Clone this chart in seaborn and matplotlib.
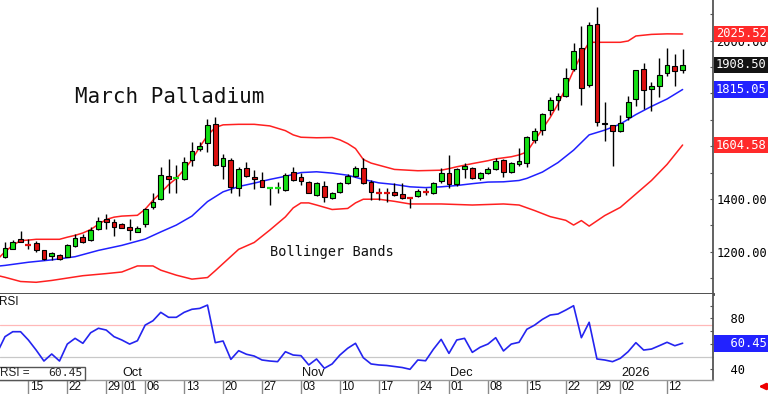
import numpy as np
import pandas as pd
import matplotlib
matplotlib.use("Agg")
import matplotlib.pyplot as plt
import matplotlib.transforms as mtransforms
from matplotlib.patches import Rectangle
from matplotlib.ticker import MultipleLocator
import seaborn as sns

# ---------------- data ----------------
first_day = "2025-09-10"
last_day = "2026-01-14"
market_holidays = ["2025-11-27", "2025-12-25", "2026-01-01"]

opens = [1181, 1210, 1247, 1226, 1234, 1205, 1184, 1187, 1181, 1222,
         1256, 1244, 1285, 1324, 1311, 1304, 1294, 1276, 1305, 1368,
         1399, 1488, 1477, 1475, 1548, 1588, 1611, 1683, 1525, 1548,
         1440, 1516, 1484, 1472, 1439, 1440, 1434, 1503, 1482, 1464,
         1415, 1449, 1402, 1428, 1459, 1487, 1519, 1465, 1426, 1426,
         1425, 1418, 1407, 1412, 1429, 1421, 1469, 1497, 1456, 1512,
         1519, 1478, 1500, 1514, 1548, 1503, 1533, 1535, 1624, 1662,
         1737, 1775, 1790, 1892, 1971, 1832, 2062, 1689, 1680, 1659,
         1710, 1778, 1892, 1816, 1828, 1879, 1905, 1889]
highs = [1236, 1243, 1278, 1247, 1242, 1206, 1199, 1190, 1228, 1266,
         1266, 1292, 1333, 1342, 1323, 1308, 1324, 1297, 1365, 1421,
         1520, 1550, 1529, 1560, 1617, 1617, 1705, 1712, 1569, 1556,
         1520, 1541, 1510, 1501, 1441, 1465, 1497, 1520, 1497, 1469,
         1465, 1469, 1428, 1465, 1493, 1525, 1554, 1472, 1440, 1440,
         1462, 1459, 1407, 1437, 1440, 1465, 1516, 1567, 1516, 1535,
         1522, 1503, 1522, 1554, 1550, 1541, 1592, 1640, 1670, 1727,
         1788, 1800, 1895, 1990, 2056, 2071, 2127, 1769, 1680, 1718,
         1790, 1889, 1917, 1845, 1933, 1971, 1950, 1967]
lows = [1177, 1209, 1236, 1209, 1199, 1167, 1167, 1168, 1179, 1218,
        1234, 1242, 1281, 1286, 1260, 1289, 1244, 1274, 1293, 1362,
        1396, 1421, 1421, 1472, 1525, 1583, 1577, 1525, 1475, 1424,
        1411, 1484, 1437, 1444, 1377, 1421, 1431, 1469, 1453, 1422,
        1411, 1390, 1399, 1424, 1457, 1484, 1457, 1396, 1396, 1390,
        1411, 1399, 1365, 1409, 1415, 1419, 1462, 1443, 1450, 1478,
        1475, 1472, 1493, 1510, 1482, 1497, 1525, 1522, 1611, 1642,
        1720, 1737, 1788, 1886, 1756, 1826, 1677, 1621, 1525, 1655,
        1700, 1752, 1740, 1735, 1788, 1866, 1828, 1879]
closes = [1213, 1238, 1238, 1225, 1206, 1171, 1195, 1172, 1225, 1251,
          1237, 1283, 1316, 1311, 1295, 1291, 1281, 1291, 1362, 1390,
          1491, 1475, 1479, 1539, 1582, 1602, 1680, 1529, 1554, 1446,
          1512, 1488, 1476, 1446, 1441, 1442, 1491, 1472, 1469, 1424,
          1459, 1406, 1424, 1459, 1487, 1519, 1459, 1428, 1424, 1424,
          1415, 1405, 1405, 1431, 1427, 1462, 1497, 1456, 1512, 1525,
          1478, 1500, 1512, 1544, 1503, 1535, 1543, 1634, 1657, 1721,
          1775, 1790, 1858, 1961, 1820, 2060, 1693, 1686, 1659, 1689,
          1769, 1889, 1813, 1830, 1870, 1908, 1885, 1908.5]

# Bollinger bands (trading-day number, price)
upper_day = [-1, 0, 1, 2, 3, 4, 7, 8, 9, 10, 11, 12, 13, 14, 15, 17, 18, 19, 20,
             21, 22, 23, 24, 25, 26, 27, 28, 30, 32, 34, 36, 37, 38, 40, 42, 43,
             44, 45, 46, 47, 48, 50, 53, 56, 57, 58, 60, 62, 63, 65, 66, 67, 68,
             69, 70, 71, 72, 73, 74, 75, 79, 80, 81, 83, 85, 87]
upper_val = [1170, 1200, 1224, 1242, 1244, 1247, 1247, 1255, 1262, 1271, 1284,
             1304, 1322, 1331, 1335, 1338, 1361, 1395, 1423, 1454, 1478, 1511,
             1549, 1597, 1641, 1671, 1681, 1683, 1683, 1677, 1659, 1643, 1634,
             1632, 1633, 1624, 1610, 1591, 1550, 1536, 1528, 1512, 1507, 1509,
             1515, 1522, 1534, 1545, 1552, 1560, 1567, 1578, 1622, 1665, 1709,
             1760, 1821, 1888, 1946, 1994, 1994, 1999, 2018, 2024, 2026, 2025.52]
mid_day = [-1, 0, 3, 6, 9, 12, 15, 18, 20, 22, 24, 26, 28, 30, 32, 34, 36, 38,
           40, 42, 44, 46, 48, 50, 52, 54, 56, 58, 60, 62, 64, 66, 67, 69, 71,
           73, 75, 77, 79, 81, 83, 85, 87]
mid_val = [1145, 1148, 1160, 1169, 1181, 1205, 1224, 1248, 1275, 1301, 1335,
           1390, 1427, 1447, 1460, 1474, 1486, 1500, 1503, 1498, 1490, 1474,
           1461, 1455, 1446, 1443, 1446, 1451, 1458, 1464, 1465, 1470, 1478,
           1502, 1538, 1585, 1643, 1661, 1684, 1720, 1751, 1779, 1815.05]
lower_day = [-1, 0, 2, 4, 6, 8, 10, 13, 15, 17, 19, 20, 22, 24, 26, 27, 28, 30,
             32, 34, 36, 37, 38, 39, 40, 42, 44, 45, 46, 48, 50, 52, 56, 60, 64,
             66, 68, 70, 72, 73, 74, 75, 77, 79, 81, 83, 85, 87]
lower_val = [1110, 1103, 1087, 1084, 1091, 1100, 1109, 1117, 1123, 1146, 1146,
             1130, 1111, 1096, 1102, 1128, 1155, 1209, 1235, 1282, 1332, 1366,
             1385, 1385, 1377, 1360, 1364, 1385, 1399, 1399, 1391, 1381, 1381,
             1377, 1381, 1377, 1356, 1333, 1319, 1301, 1318, 1297, 1337, 1368,
             1419, 1470, 1531, 1604.58]

# RSI, one value per trading day starting the day before the first candle
rsi_first_day = -1
rsi_val = [53.0,
           65.6, 69.5, 69.5, 63.0, 55.1, 46.5, 52.0, 46.5, 59.8, 64.3,
           60.4, 68.7, 72.2, 70.8, 65.6, 63.0, 59.8, 62.4, 74.7, 78.1,
           84.7, 80.8, 80.8, 84.7, 87.1, 87.8, 90.4, 60.9, 62.2, 47.8,
           54.6, 51.8, 50.4, 47.3, 46.5, 46.0, 53.8, 51.2, 50.7, 43.4,
           48.1, 40.8, 44.2, 51.2, 56.5, 60.4, 49.1, 44.2, 43.4, 43.0,
           42.2, 41.4, 40.0, 47.3, 46.7, 55.7, 63.5, 52.5, 63.0, 64.3,
           53.3, 57.3, 59.8, 64.8, 54.4, 59.8, 61.2, 71.4, 74.7, 79.2,
           82.6, 83.4, 86.5, 89.9, 64.8, 76.9, 48.1, 47.3, 46.0, 48.6,
           53.8, 60.9, 55.1, 55.9, 58.5, 61.2, 58.5, 60.45]
rsi_high_line = 75
rsi_low_line = 50

tick_dates = ["2025-09-15", "2025-09-22", "2025-09-29", "2025-10-01", "2025-10-06",
              "2025-10-13", "2025-10-20", "2025-10-27", "2025-11-03", "2025-11-10",
              "2025-11-17", "2025-11-24", "2025-12-01", "2025-12-08", "2025-12-15",
              "2025-12-22", "2025-12-29", "2026-01-02", "2026-01-12"]
tick_labels = ["15", "22", "29", "01", "06", "13", "20", "27", "03", "10",
               "17", "24", "01", "08", "15", "22", "29", "02", "12"]
month_dates = ["2025-10-01", "2025-11-03", "2025-12-01", "2026-01-02"]
month_labels = ["Oct", "Nov", "Dec", "2026"]
price_ticks = [1200, 1400, 1600, 1800, 2000]
price_tick_labels = ["1200.00", "1400.00", "", "", "2000.00"]   # 1600/1800 sit under value boxes
rsi_ticks = [40, 60, 80]
rsi_tick_labels = ["  40", "", "  80"]                         # 60 sits under the value box
title_text = "March Palladium"
study_text = "Bollinger Bands"

# ---------------- styling ----------------
sns.set_theme(style="white")
plt.rcParams["font.family"] = ["DejaVu Sans"]
GREEN = "#14e014"
RED_BODY = "#dd1010"
RED = "#ff2020"
BLUE = "#2020ff"
MONO = "DejaVu Sans Mono"
SANS = "Liberation Sans"

days = pd.bdate_range(first_day, last_day)
days = days[~days.isin(pd.to_datetime(market_holidays))]
pos = np.arange(len(days))
pos_of = {d: i for i, d in enumerate(days)}

o = np.array(opens, float)
h = np.array(highs, float)
l = np.array(lows, float)
c = np.array(closes, float)

W, H = 768, 394
fig = plt.figure(figsize=(W / 100, H / 100), dpi=100)


def px_rect(x0, y0, x1, y1):
    return [x0 / W, 1 - y1 / H, (x1 - x0) / W, (y1 - y0) / H]


ax = fig.add_axes(px_rect(0, 0, 713, 294))
axr = fig.add_axes(px_rect(0, 294, 713, 380), sharex=ax)
for a in (ax, axr):
    a.set_facecolor("white")

# Bollinger bands
sns.lineplot(x=upper_day, y=upper_val, ax=ax, color=RED, lw=1.1, zorder=1.5)
sns.lineplot(x=lower_day, y=lower_val, ax=ax, color=RED, lw=1.1, zorder=1.5)
sns.lineplot(x=mid_day, y=mid_val, ax=ax, color=BLUE, lw=1.1, zorder=1.5)

# candles
up = c >= o
body_lo = np.minimum(o, c)
body_h = np.abs(c - o)
doji = body_h < 3
cols = np.where(up, GREEN, RED_BODY)
ax.vlines(pos, l, h, color="black", lw=1.0, zorder=2)
nd = ~doji
ax.bar(pos[nd], body_h[nd], bottom=body_lo[nd], width=0.62, color=cols[nd],
       edgecolor="black", linewidth=0.8, zorder=3)
ax.hlines(c[doji], pos[doji] - 0.38, pos[doji] + 0.38, colors=cols[doji], lw=1.6, zorder=3)

ax.set_xlim(-0.64, 90.9)
ax.set_ylim(1039.6, 2154.4)

# RSI
rsi_day = np.arange(len(rsi_val)) + rsi_first_day
axr.axhline(rsi_high_line, color="#ffb8b8", lw=0.9, zorder=1)
axr.axhline(rsi_low_line, color="#c8c8c8", lw=0.9, zorder=1)
sns.lineplot(x=rsi_day, y=rsi_val, ax=axr, color="#2424f0", lw=1.2, zorder=2)
axr.set_ylim(31.6, 99.1)

# axes cosmetics
for a in (ax, axr):
    a.set_xlabel("")
    a.set_ylabel("")
    a.tick_params(axis="x", bottom=False, labelbottom=False, top=False)
    a.yaxis.tick_right()
    a.spines["top"].set_visible(False)
    a.spines["left"].set_visible(False)
    a.spines["right"].set_visible(True)
    a.spines["right"].set_color("#555555")
    a.spines["right"].set_linewidth(1.3)
    a.grid(False)
ax.spines["bottom"].set_color("#404040")
ax.spines["bottom"].set_linewidth(2.0)
axr.spines["bottom"].set_color("#9a9a9a")
axr.spines["bottom"].set_linewidth(1.0)

ax.set_yticks(price_ticks, labels=price_tick_labels, fontfamily=MONO, fontsize=8.7)
ax.yaxis.set_minor_locator(MultipleLocator(100))
ax.tick_params(axis="y", which="both", direction="in", length=2.5, width=0.8,
               color="#555555", pad=2.2, labelcolor="black")
axr.set_yticks(rsi_ticks, labels=rsi_tick_labels, fontfamily=MONO, fontsize=8.7)
axr.yaxis.set_minor_locator(MultipleLocator(10))
axr.tick_params(axis="y", which="both", direction="in", length=2.5, width=0.8,
                color="#555555", pad=2.2, labelcolor="black")

# last-value boxes
def value_box(a, val, fc, text):
    tr = mtransforms.blended_transform_factory(a.transAxes, a.transData)
    a.text(1 + 3 / 713, val, text, transform=tr, ha="left", va="center",
           color="white", fontfamily=MONO, fontsize=8.7, zorder=10, clip_on=False,
           bbox=dict(boxstyle="square,pad=0.15", fc=fc, ec="none"))


value_box(ax, upper_val[-1], "#ff2a2a", f"{upper_val[-1]:.2f}")
value_box(ax, closes[-1], "#141414", f"{closes[-1]:.2f}")
value_box(ax, mid_val[-1], "#2222ff", f"{mid_val[-1]:.2f}")
value_box(ax, lower_val[-1], "#ff2a2a", f"{lower_val[-1]:.2f}")
value_box(axr, rsi_val[-1], "#2222ff", f"  {rsi_val[-1]:.2f}")

# titles
ax.text(75 / 713, 1 - 97 / 294, title_text, transform=ax.transAxes, ha="left",
        va="center", fontfamily=MONO, fontsize=15, color="#111111")
ax.text(270 / 713, 1 - 252 / 294, study_text, transform=ax.transAxes, ha="left",
        va="center", fontfamily=MONO, fontsize=9.8, color="#111111")
axr.text(-1 / 713, 1 - 8 / 86, "RSI", transform=axr.transAxes, ha="left",
         va="center", fontfamily=SANS, fontsize=8.5, color="#111111")

# RSI value box at lower left
axr.add_patch(Rectangle((-2 / 713, 0), 87 / 713, 13 / 86, transform=axr.transAxes,
                        fc="white", ec="#555555", lw=1.0, clip_on=False, zorder=6))
axr.text(0.5 / 713, 6.5 / 86, "RSI =", transform=axr.transAxes, ha="left",
         va="center", fontfamily=SANS, fontsize=8.5, zorder=7)
axr.text(83 / 713, 6.5 / 86, f"{rsi_val[-1]:.2f}", transform=axr.transAxes,
         ha="right", va="center", fontfamily=MONO, fontsize=8.2, zorder=7)

# date row
tick_pos = [pos_of[pd.Timestamp(d)] for d in tick_dates]
xtr = axr.get_xaxis_transform()
axr.vlines(tick_pos, -14 / 86, 0, transform=xtr, colors="#8a8a8a", lw=1.0,
           clip_on=False)
lbl_tr = mtransforms.offset_copy(xtr, fig=fig, x=1.5, y=0, units="dots")
for p, t in zip(tick_pos, tick_labels):
    axr.text(p, -7.2 / 86, t, transform=lbl_tr, ha="left", va="center",
             fontfamily=SANS, fontsize=8.5, color="#111111", clip_on=False)
month_pos = [pos_of[pd.Timestamp(d)] for d in month_dates]
mon_tr = mtransforms.offset_copy(xtr, fig=fig, x=1.0, y=0, units="dots")
for p, t in zip(month_pos, month_labels):
    axr.text(p, 7 / 86, t, transform=mon_tr, ha="left", va="center",
             fontfamily=SANS, fontsize=9.2, color="#111111")

# red arrow at bottom right
fig.add_artist(matplotlib.patches.FancyArrowPatch(
    (767 / W, 7.5 / H), (756 / W, 7.5 / H), transform=fig.transFigure,
    arrowstyle="-|>", mutation_scale=8, color="#ee0000", lw=2.2))

fig.savefig("out.png", dpi=100)
